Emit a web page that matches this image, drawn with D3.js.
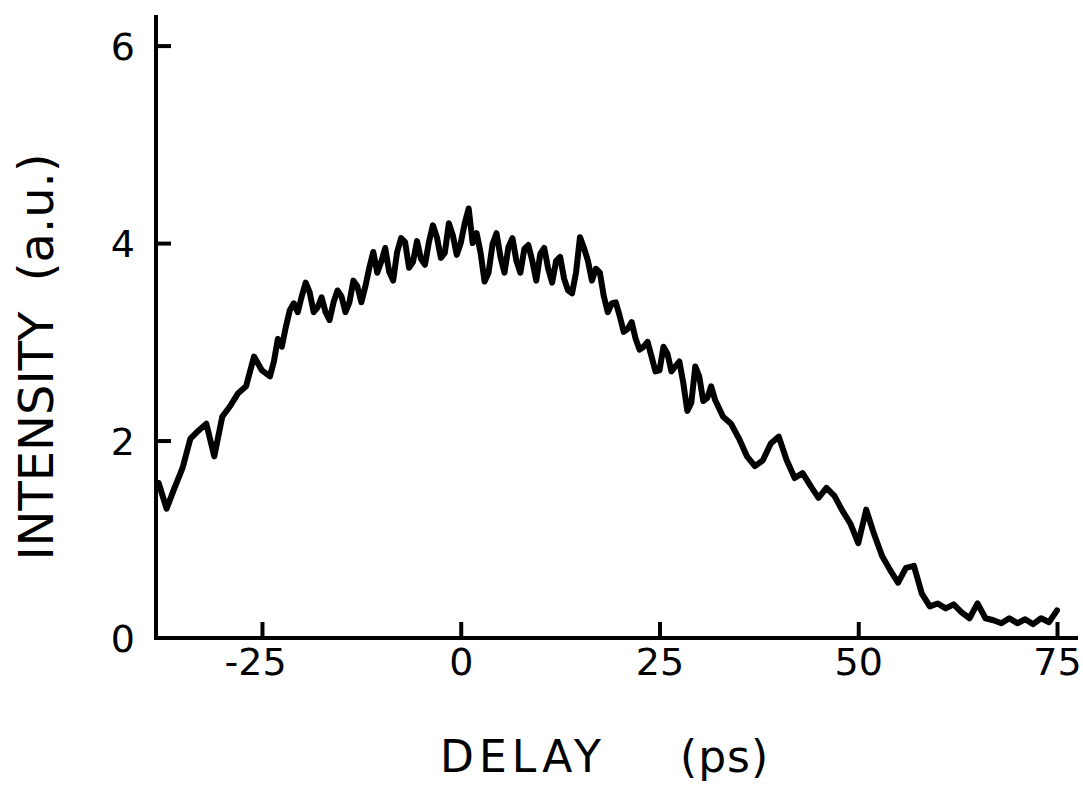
<!DOCTYPE html>
<html>
<head>
<meta charset="utf-8">
<script src="https://cdn.jsdelivr.net/npm/d3@7"></script>
<style>
  html, body { margin: 0; padding: 0; background: #fff; }
  svg { display: block; }
  text { font-family: "DejaVu Sans", sans-serif; fill: #000; white-space: pre; }
</style>
</head>
<body>
<svg id="chart" width="1083" height="785"></svg>
<script>
// ---- data ----
const delays = [
  -38,-37,-36,-35,-34,-33,-32,-31,-30,-29,-28,-27,-26,-25,-24,-23,-22,-21,-20,-19,
  -18,-17,-16,-15,-14,-13,-12,-11,-10,-9,-8,-7,-6,-5,-4,-3,-2,-1,0,1,
  2,3,4,5,6,7,8,9,10,11,12,13,14,15,16,17,18,19,20,21,
  22,23,24,25,26,27,28,29,30,31,32,33,34,35,36,37,38,39,40,41,
  42,43,44,45,46,47,48,49,50,51,52,53,54,55,56,57,58,59,60,61,
  62,63,64,65,66,67,68,69,70,71,72,73,74,75
];
const intensity = [
  1.57,1.31,1.52,1.72,2.02,2.10,2.17,1.84,2.24,2.35,2.48,2.55,2.85,2.71,2.65,3.03,3.15,3.39,3.46,3.50,
  3.35,3.30,3.40,3.46,3.40,3.56,3.56,3.91,3.81,3.71,3.91,4.01,3.81,3.84,4.01,4.06,3.90,4.08,4.00,4.35,
  4.10,3.61,3.99,3.86,3.96,3.82,3.94,3.82,3.89,3.74,3.82,3.64,3.49,4.06,3.82,3.74,3.46,3.39,3.26,3.13,
  3.03,2.95,2.85,2.71,2.88,2.75,2.58,2.38,2.65,2.43,2.41,2.24,2.17,2.02,1.84,1.74,1.80,1.97,2.04,1.80,
  1.62,1.67,1.54,1.42,1.52,1.44,1.29,1.16,0.96,1.30,1.05,0.83,0.69,0.56,0.71,0.73,0.45,0.32,0.35,0.30,
  0.34,0.26,0.20,0.35,0.20,0.18,0.15,0.20,0.15,0.19,0.14,0.20,0.16,0.28
];
// extra half-step readings where the trace is visibly fuzzy
const halfDelays = [
  -23.5,-22.5,-21.5,-20.5,-19.5,-18.5,-17.5,-16.5,-15.5,-14.5,-13.5,-12.5,-11.5,-10.5,-9.5,-8.5,
  -7.5,-6.5,-5.5,-4.5,-3.5,-2.5,-1.5,-0.5,0.5,1.5,2.5,3.5,4.5,5.5,6.5,7.5,
  8.5,9.5,10.5,11.5,12.5,13.5,14.5,15.5,16.5,17.5,18.5,19.5,20.5,21.5,22.5,23.5,
  24.5,25.5,26.5,27.5,28.5,29.5,30.5,31.5
];
const halfIntensity = [
  2.80,2.95,3.32,3.30,3.60,3.30,3.45,3.22,3.52,3.30,3.62,3.40,3.75,3.70,3.95,3.62,
  4.05,3.75,4.02,3.78,4.18,3.85,4.20,3.88,4.20,4.00,3.90,3.70,4.10,3.70,4.05,3.70,
  3.98,3.62,3.95,3.60,3.86,3.52,3.70,3.95,3.62,3.70,3.30,3.40,3.10,3.20,2.92,3.00,
  2.70,2.95,2.70,2.80,2.30,2.75,2.40,2.55
];
const xTicks = [-25, 0, 25, 50, 75];
const yTicks = [2, 4, 6];
const yLabelTicks = [0, 2, 4, 6];
const xTitle = ["DELAY", "(ps)"];
const yTitle = "INTENSITY  (a.u.)";

// ---- layout ----
const svg = d3.select("#chart");
const x = d3.scaleLinear().domain([-38.33, 77.64]).range([156, 1078]);
const y = d3.scaleLinear().domain([0, 6.31]).range([638, 15]);
const axisW = 4;

// x axis
const gx = svg.append("g").attr("transform", `translate(0,${y(0)})`)
  .call(d3.axisBottom(x).tickValues(xTicks).tickSize(-16).tickPadding(10)
        .tickFormat(d => d < 0 ? "-" + Math.abs(d) : String(d)));
gx.select(".domain").attr("stroke", "#000").attr("stroke-width", axisW)
  .attr("d", `M${x.range()[0]},0H${x.range()[1]}`);
gx.selectAll(".tick line").attr("stroke", "#000").attr("stroke-width", axisW);
gx.selectAll(".tick text").attr("font-size", 38).attr("font-family", "DejaVu Sans")
  .attr("dx", d => d < 0 ? "-0.18em" : 0);

// y axis
const gy = svg.append("g").attr("transform", `translate(${x.range()[0]},0)`)
  .call(d3.axisLeft(y).tickValues(yLabelTicks).tickSize(-15).tickPadding(21)
        .tickFormat(d3.format("d")));
gy.select(".domain").attr("stroke", "#000").attr("stroke-width", axisW)
  .attr("d", `M0,${y.range()[1]}V${y(0) + axisW / 2}`);
gy.selectAll(".tick line").attr("stroke", "#000").attr("stroke-width", axisW)
  .attr("display", d => yTicks.includes(d) ? null : "none");
gy.selectAll(".tick text").attr("font-size", 38).attr("font-family", "DejaVu Sans")
  .attr("dy", "0.36em");

// trace
const pts = delays.map((d, i) => [d, intensity[i]])
  .concat(halfDelays.map((d, i) => [d, halfIntensity[i]]))
  .sort((a, b) => a[0] - b[0]);
const line = d3.line().x(d => x(d[0])).y(d => y(d[1]));
svg.append("path").datum(pts)
  .attr("d", line)
  .attr("fill", "none")
  .attr("stroke", "#000")
  .attr("stroke-width", 6)
  .attr("stroke-linejoin", "round")
  .attr("stroke-linecap", "round");

// titles
const xt = svg.append("text").attr("y", 772).attr("font-size", 44);
xt.append("tspan").attr("x", 440).attr("letter-spacing", 5).text(xTitle[0]);
xt.append("tspan").attr("x", 680).attr("letter-spacing", 1).text(xTitle[1]);

svg.append("text")
  .attr("transform", "translate(53,357) rotate(-90)")
  .attr("text-anchor", "middle")
  .attr("font-size", 48)
  .text(yTitle);
</script>
</body>
</html>
